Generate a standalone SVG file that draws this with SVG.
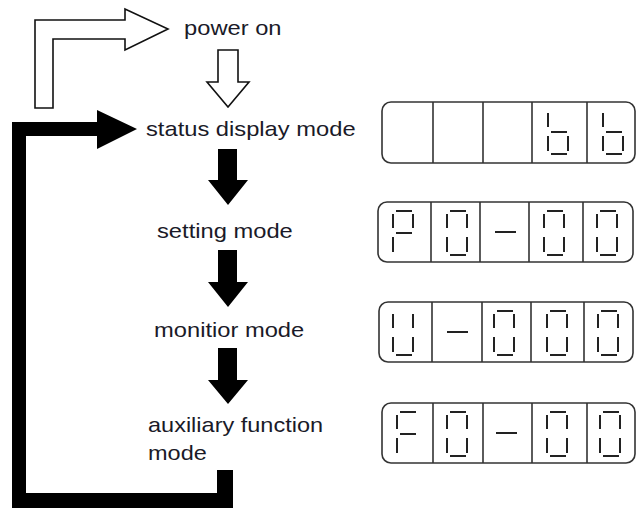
<svg xmlns="http://www.w3.org/2000/svg" xmlns:xlink="http://www.w3.org/1999/xlink" width="636" height="508" viewBox="0 0 636 508">
<style>
.lbl{font-family:"Liberation Sans",Arial,sans-serif;font-size:21px;fill:#1a1a28}
.box{fill:none;stroke:#333;stroke-width:1.6}
.div{stroke:#333;stroke-width:1.6}
.seg{stroke:#222;stroke-width:2;stroke-linecap:butt}
.hollow{fill:#fff;stroke:#111;stroke-width:1.6;stroke-linejoin:miter}
.solid{fill:#000}
</style>
<defs>
<g id="sa"><line class="seg" x1="3" y1="9" x2="19" y2="9"/></g>
<g id="sb"><line class="seg" x1="20" y1="12" x2="20" y2="26"/></g>
<g id="sc"><line class="seg" x1="20" y1="35" x2="20" y2="50"/></g>
<g id="sd"><line class="seg" x1="3" y1="53" x2="19" y2="53"/></g>
<g id="se"><line class="seg" x1="0" y1="35" x2="0" y2="50"/></g>
<g id="sf"><line class="seg" x1="0" y1="12" x2="0" y2="26"/></g>
<g id="sg"><line class="seg" x1="3" y1="31" x2="19" y2="31"/></g>
<g id="dig0"><use xlink:href="#sa"/><use xlink:href="#sb"/><use xlink:href="#sc"/><use xlink:href="#sd"/><use xlink:href="#se"/><use xlink:href="#sf"/></g>
<g id="digb"><use xlink:href="#sf"/><use xlink:href="#se"/><use xlink:href="#sg"/><use xlink:href="#sd"/><use xlink:href="#sc"/></g>
<g id="digP"><use xlink:href="#sa"/><use xlink:href="#sf"/><use xlink:href="#sb"/><use xlink:href="#sg"/><use xlink:href="#se"/></g>
<g id="digU"><use xlink:href="#sf"/><use xlink:href="#se"/><use xlink:href="#sd"/><use xlink:href="#sb"/><use xlink:href="#sc"/></g>
<g id="digF"><use xlink:href="#sa"/><use xlink:href="#sf"/><use xlink:href="#sg"/><use xlink:href="#se"/></g>
<g id="dash"><line class="seg" x1="0" y1="30" x2="21" y2="30"/></g>
</defs>
<rect width="636" height="508" fill="#fff"/>

<g id="connectors">
<path class="hollow" d="M35,108 L35,20 L125,20 L125,9 L168,29 L125,50 L125,39 L53,39 L53,108 Z"/>
<path class="hollow" d="M218,50 L238,50 L238,82 L249,82 L228,107 L207,82 L218,82 Z"/>
<path class="solid" d="M12,508 L12,122 L97,122 L97,110 L137,129 L97,149 L97,136 L26,136 L26,493 L217,493 L217,470 L233,470 L233,508 Z"/>
<path class="solid" d="M218,149 L237,149 L237,180 L248,180 L228,205 L208,180 L218,180 Z"/>
<path class="solid" d="M218,250 L237,250 L237,282 L248,282 L228,307 L208,282 L218,282 Z"/>
<path class="solid" d="M218,348 L237,348 L237,380 L248,380 L228,404 L208,380 L218,380 Z"/>
</g>

<g id="node-power-on">
<text class="lbl" transform="translate(184,35) scale(1.13,1)">power on</text>
</g>

<g id="node-status">
<text class="lbl" transform="translate(146,136) scale(1.13,1)">status display mode</text>
</g>

<g id="node-setting">
<text class="lbl" transform="translate(157,238) scale(1.13,1)">setting mode</text>
</g>

<g id="node-monitor">
<text class="lbl" transform="translate(154,337) scale(1.13,1)">monitior mode</text>
</g>

<g id="node-auxiliary">
<text class="lbl" transform="translate(148,432) scale(1.12,1)">auxiliary function</text>
<text class="lbl" transform="translate(148,460) scale(1.12,1)">mode</text>
</g>

<g id="display-status">
<rect class="box" x="382" y="102" width="253" height="61" rx="9"/>
<line class="div" x1="433" y1="102" x2="433" y2="163"/>
<line class="div" x1="483" y1="102" x2="483" y2="163"/>
<line class="div" x1="532" y1="102" x2="532" y2="163"/>
<line class="div" x1="587" y1="102" x2="587" y2="163"/>
<use xlink:href="#digb" x="548" y="101"/>
<use xlink:href="#digb" x="603" y="101"/>
</g>

<g id="display-setting">
<rect class="box" x="378" y="202" width="255" height="60" rx="9"/>
<line class="div" x1="431" y1="202" x2="431" y2="262"/>
<line class="div" x1="480" y1="202" x2="480" y2="262"/>
<line class="div" x1="529" y1="202" x2="529" y2="262"/>
<line class="div" x1="583" y1="202" x2="583" y2="262"/>
<use xlink:href="#digP" x="393" y="202"/>
<use xlink:href="#dig0" x="447" y="202"/>
<use xlink:href="#dash" x="495" y="202"/>
<use xlink:href="#dig0" x="544" y="202"/>
<use xlink:href="#dig0" x="597" y="202"/>
</g>

<g id="display-monitor">
<rect class="box" x="379" y="302" width="254" height="60" rx="9"/>
<line class="div" x1="432" y1="302" x2="432" y2="362"/>
<line class="div" x1="482" y1="302" x2="482" y2="362"/>
<line class="div" x1="531" y1="302" x2="531" y2="362"/>
<line class="div" x1="584" y1="302" x2="584" y2="362"/>
<use xlink:href="#digU" x="393" y="302"/>
<use xlink:href="#dash" x="447" y="302"/>
<use xlink:href="#dig0" x="494" y="302"/>
<use xlink:href="#dig0" x="547" y="302"/>
<use xlink:href="#dig0" x="598" y="302"/>
</g>

<g id="display-auxiliary">
<rect class="box" x="382" y="403" width="253" height="60" rx="9"/>
<line class="div" x1="433" y1="403" x2="433" y2="463"/>
<line class="div" x1="483" y1="403" x2="483" y2="463"/>
<line class="div" x1="532" y1="403" x2="532" y2="463"/>
<line class="div" x1="587" y1="403" x2="587" y2="463"/>
<use xlink:href="#digF" x="397" y="403"/>
<use xlink:href="#dig0" x="447" y="403"/>
<use xlink:href="#dash" x="496" y="403"/>
<use xlink:href="#dig0" x="547" y="403"/>
<use xlink:href="#dig0" x="600" y="403"/>
</g>
</svg>
